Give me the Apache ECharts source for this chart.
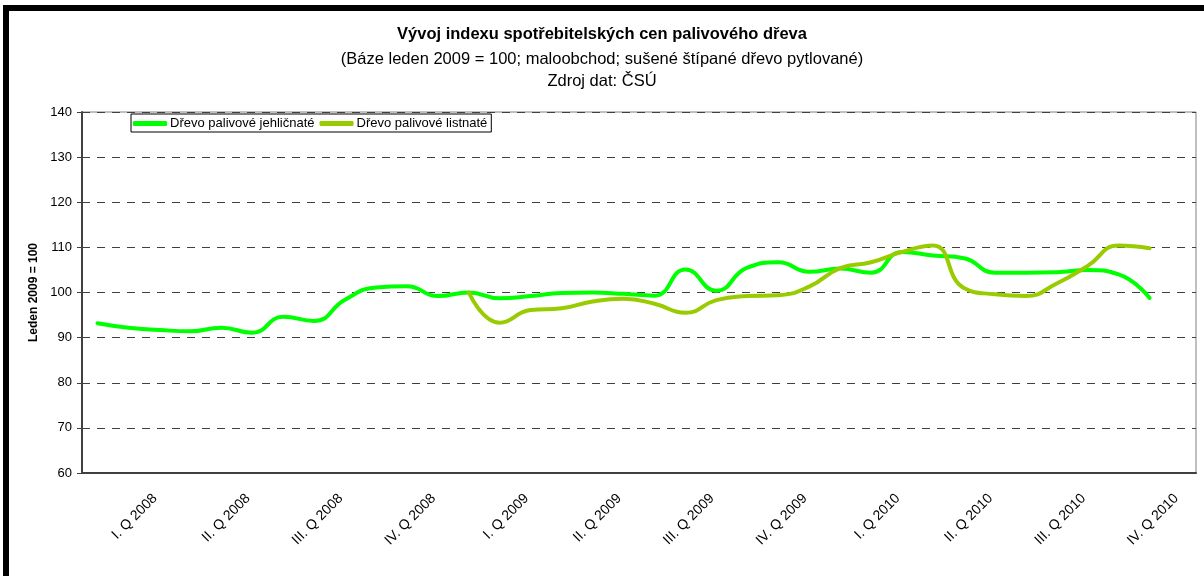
<!DOCTYPE html>
<html>
<head>
<meta charset="utf-8">
<script src="https://cdn.jsdelivr.net/npm/echarts@6/dist/echarts.min.js"></script>
<style>
  html, body { margin: 0; padding: 0; background: #fff; overflow: hidden; }
  #frame { position: absolute; left: 3px; top: 5px; width: 1300px; height: 700px;
           border-left: 6px solid #000; border-top: 6px solid #000; }
  #chartDiv { position: absolute; left: 0; top: 0; width: 1204px; height: 576px; }
</style>
</head>
<body>
<div id="frame"></div>
<div id="chartDiv"></div>
<script>
// měsíce 2008-2010
var months = ['2008-01','2008-02','2008-03','2008-04','2008-05','2008-06','2008-07','2008-08','2008-09','2008-10','2008-11','2008-12',
              '2009-01','2009-02','2009-03','2009-04','2009-05','2009-06','2009-07','2009-08','2009-09','2009-10','2009-11','2009-12',
              '2010-01','2010-02','2010-03','2010-04','2010-05','2010-06','2010-07','2010-08','2010-09','2010-10','2010-11','2010-12'];
// popisky čtvrtletí (u posledního měsíce čtvrtletí)
var quarterLabels = ['I. Q 2008','II. Q 2008','III. Q 2008','IV. Q 2008',
                     'I. Q 2009','II. Q 2009','III. Q 2009','IV. Q 2009',
                     'I. Q 2010','II. Q 2010','III. Q 2010','IV. Q 2010'];
var jehlicnate = [93.2, 92.2, 91.7, 91.4, 92.2, 91.1, 94.6, 93.7, 98.4, 101.1, 101.4, 99.2,
                  100.0, 98.7, 99.2, 99.9, 100.0, 99.7, 99.3, 105.1, 100.4, 105.5, 106.7, 104.6,
                  105.3, 104.4, 109.0, 108.2, 107.6, 104.4, 104.4, 104.5, 105.0, 104.0, 98.8];
var listnate = [null, null, null, null, null, null, null, null, null, null, null, null,
                100.0, 93.3, 96.1, 96.5, 98.0, 98.6, 97.5, 95.5, 98.3, 99.2, 99.4, 101.3,
                105.4, 106.7, 109.0, 110.4, 101.0, 99.6, 99.2, 102.0, 105.9, 110.4, 109.8];
var yTicks = [60, 70, 80, 90, 100, 110, 120, 130, 140];

var font = '"Liberation Sans", Arial, sans-serif';
var Chart1 = echarts.init(document.getElementById('chartDiv'));

var option = {
    animation: false,
    textStyle: {fontFamily: font},
    title: {
        text: 'Vývoj indexu spotřebitelských cen palivového dřeva',
        subtext: '(Báze leden 2009 = 100; maloobchod; sušené štípané dřevo pytlované)\nZdroj dat: ČSÚ',
        left: 'center',
        top: 24,
        padding: 0,
        itemGap: 4,
        textStyle: {fontFamily: font, fontSize: 16.5, fontWeight: 'bold', color: '#000', lineHeight: 20},
        subtextStyle: {fontFamily: font, fontSize: 16.5, color: '#000', lineHeight: 22}
    },
    legend: {
        left: 131,
        top: 114,
        padding: [3, 4, 2, 2],
        itemGap: 5,
        itemWidth: 34,
        itemHeight: 5,
        icon: 'roundRect',
        borderColor: '#000',
        borderWidth: 1,
        borderRadius: 0,
        backgroundColor: '#fff',
        textStyle: {fontFamily: font, fontSize: 13, color: '#000', padding: [0, 0, 0, -2]},
        data: ['Dřevo palivové jehličnaté', 'Dřevo palivové listnaté']
    },
    grid: {
        left: 82, right: 8, top: 112, bottom: 103,
        show: true, borderColor: '#808080', borderWidth: 1,
        containLabel: false,
        outerBoundsMode: 'none'
    },
    xAxis: {
        type: 'category',
        data: months,
        boundaryGap: true,
        axisLine: {lineStyle: {color: '#404040', width: 2}},
        axisTick: {
            length: 4,
            interval: function (i) { return i % 4 === 0; },
            lineStyle: {color: '#404040', width: 1}
        },
        axisLabel: {
            interval: function (i) { return i % 3 === 2; },
            formatter: function (v, i) { return quarterLabels[Math.floor(i / 3)]; },
            rotate: 45,
            margin: 19,
            padding: [0, 6, 0, 0],
            fontFamily: font,
            fontSize: 14,
            color: '#000'
        },
        splitLine: {show: false}
    },
    yAxis: {
        type: 'value',
        min: yTicks[0],
        max: yTicks[yTicks.length - 1],
        interval: 10,
        name: 'Leden 2009 = 100',
        nameLocation: 'middle',
        nameGap: 42,
        nameTextStyle: {fontFamily: font, fontSize: 12, fontWeight: 'bold', color: '#000'},
        axisLine: {show: true, lineStyle: {color: '#404040', width: 2}},
        axisTick: {show: true, length: 5, lineStyle: {color: '#404040'}},
        axisLabel: {margin: 10, fontFamily: font, fontSize: 13, color: '#000'},
        splitLine: {lineStyle: {color: '#404040', type: [8, 7], width: 1}}
    },
    color: ['#00FF00', '#99CC00'],
    series: [{
        name: 'Dřevo palivové jehličnaté',
        type: 'line',
        data: jehlicnate,
        smooth: 0.5,
        symbol: 'none',
        lineStyle: {width: 4, cap: 'round', join: 'round'},
        z: 2
    }, {
        name: 'Dřevo palivové listnaté',
        type: 'line',
        data: listnate,
        smooth: 0.5,
        symbol: 'none',
        lineStyle: {width: 4, cap: 'round', join: 'round'},
        z: 3
    }]
};

Chart1.setOption(option);
</script>
</body>
</html>
